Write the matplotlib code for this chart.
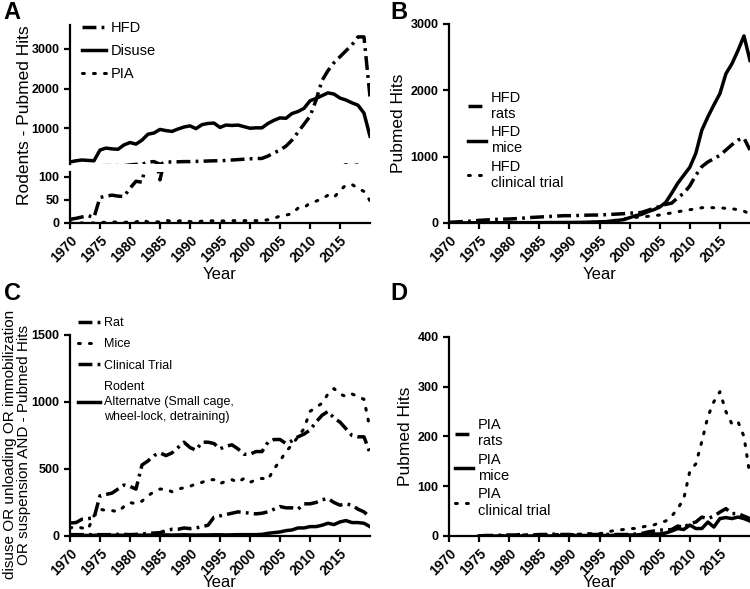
import numpy as np
import matplotlib
matplotlib.use("Agg")
import matplotlib.pyplot as plt

plt.rcParams['font.family'] = ['Liberation Sans', 'DejaVu Sans']

years = list(range(1970, 2021))
years_d = list(range(1975, 2021))

# Panel A - rodents
a_hfd = [8, 10, 13, 16, 12, 55, 58, 60, 58, 57, 75, 90, 88, 150, 160, 93, 150, 150, 155, 160,
         160, 165, 170, 175, 180, 180, 190, 200, 210, 220, 230, 235, 240, 300, 380, 450, 550, 700, 900, 1100,
         1300, 1700, 2200, 2450, 2650, 2800, 2950, 3100, 3300, 3300, 1800]
a_disuse = [150, 180, 200, 190, 180, 450, 500, 480, 470, 580, 640, 600, 700, 850, 880, 970, 940, 920, 980, 1030,
            1060, 990, 1090, 1120, 1130, 1020, 1080, 1070, 1080, 1040, 1000, 1010, 1010, 1120, 1200, 1260, 1250, 1370, 1420, 1500,
            1690, 1750, 1820, 1890, 1860, 1760, 1710, 1640, 1580, 1380, 800]
a_pia = [0, 0, 0, 0, 0, 2, 1, 2, 2, 1, 3, 2, 7, 2, 3, 2, 6, 3, 4, 6,
         3, 2, 4, 4, 5, 5, 4, 5, 5, 5, 5, 5, 5, 7, 10, 15, 17, 20, 32, 33,
         43, 47, 52, 60, 55, 70, 82, 83, 75, 68, 48]

# Panel B - HFD
b_rats = [10, 15, 20, 25, 30, 40, 45, 50, 55, 58, 60, 65, 70, 80, 85, 90, 95, 100, 105, 110,
          110, 112, 115, 118, 120, 120, 125, 130, 135, 140, 150, 150, 160, 190, 220, 250, 280, 300, 380, 450,
          560, 720, 850, 920, 970, 1020, 1100, 1180, 1250, 1280, 1100]
b_mice = [2, 2, 2, 2, 3, 3, 3, 3, 4, 4, 5, 5, 5, 5, 6, 6, 6, 7, 7, 8,
          8, 9, 10, 12, 15, 18, 20, 30, 40, 50, 80, 110, 130, 170, 200, 240, 310, 450, 600, 720,
          840, 1050, 1400, 1600, 1780, 1950, 2250, 2400, 2600, 2820, 2450]
b_clin = [0, 0, 0, 0, 0, 0, 0, 0, 0, 0, 0, 0, 1, 1, 1, 2, 2, 2, 3, 3,
          4, 5, 6, 8, 10, 15, 20, 30, 45, 60, 80, 85, 90, 100, 110, 120, 140, 150, 170, 185,
          200, 215, 230, 235, 230, 230, 220, 215, 200, 180, 130]

# Panel C - disuse
c_rat = [97, 100, 125, 130, 135, 300, 310, 320, 350, 380, 370, 350, 530, 560, 600, 620, 600, 620, 660, 700,
         660, 640, 700, 700, 690, 650, 670, 680, 650, 610, 610, 630, 630, 700, 720, 720, 690, 710, 740, 760,
         790, 850, 900, 930, 880, 850, 800, 750, 740, 740, 620]
c_mice = [60, 70, 60, 50, 150, 200, 190, 190, 180, 220, 250, 240, 260, 300, 330, 350, 350, 330, 350, 360,
          370, 390, 400, 420, 420, 390, 410, 420, 400, 430, 400, 420, 430, 420, 500, 560, 630, 680, 740, 800,
          930, 960, 990, 1060, 1100, 1060, 1040, 1060, 1040, 1020, 800]
c_clin = [10, 10, 10, 10, 10, 10, 10, 10, 12, 12, 10, 12, 15, 20, 22, 25, 40, 50, 50, 60,
          55, 60, 70, 80, 140, 150, 160, 170, 180, 175, 170, 165, 170, 180, 200, 220, 210, 210, 200, 240,
          240, 250, 270, 280, 250, 230, 240, 230, 200, 180, 140]
c_alt = [5, 5, 4, 4, 5, 6, 5, 5, 6, 5, 5, 6, 6, 7, 7, 8, 8, 7, 8, 9,
         8, 7, 8, 8, 9, 9, 8, 9, 10, 10, 10, 10, 12, 20, 25, 30, 40, 45, 60, 60,
         70, 70, 80, 95, 85, 105, 115, 100, 100, 95, 70]

# Panel D - PIA (from 1975)
d_rats = [0, 1, 1, 1, 2, 2, 2, 3, 2, 2, 3, 3, 4, 3, 3, 3, 2, 3, 4, 3,
          3, 3, 3, 3, 3, 3, 4, 5, 8, 10, 12, 12, 13, 20, 17, 25, 28, 38, 35, 40,
          48, 55, 45, 45, 40, 35]
d_mice = [0, 0, 0, 0, 0, 0, 0, 0, 0, 0, 0, 0, 0, 0, 1, 1, 1, 1, 1, 1,
          1, 1, 1, 2, 2, 2, 2, 3, 3, 4, 4, 6, 10, 15, 13, 22, 15, 15, 28, 18,
          35, 37, 35, 38, 35, 30]
d_clin = [0, 0, 1, 1, 1, 1, 1, 2, 2, 2, 2, 2, 3, 3, 3, 3, 3, 4, 4, 5,
          5, 6, 10, 12, 13, 15, 15, 18, 20, 22, 27, 30, 40, 55, 75, 130, 145, 190, 240, 270,
          290, 250, 225, 230, 200, 120]

xticks = list(range(1970, 2016, 5))

DASH = (0, (4, 1.5, 0.8, 1.5))
DOT = (0, (0.6, 3))


def style_ax(ax, show_x=True):
    for s in ['top', 'right']:
        ax.spines[s].set_visible(False)
    for s in ['left', 'bottom']:
        ax.spines[s].set_linewidth(1.6)
    ax.tick_params(width=1.6, length=4, labelsize=9)
    for lab in ax.get_yticklabels():
        lab.set_fontweight('bold')
    if show_x:
        ax.set_xticks(xticks)
        ax.set_xticklabels([str(x) for x in xticks], rotation=45, ha='right',
                           rotation_mode='anchor', fontweight='bold', fontsize=10)
    ax.set_xlim(1970, 2020)


def legend_at(ax, x, y, fs, hl, ls, line_sp=1.2):
    leg = ax.legend(loc='upper left', bbox_to_anchor=(x, y), bbox_transform=fig.transFigure,
                    frameon=False, fontsize=fs, handlelength=hl, handletextpad=0.35,
                    labelspacing=ls, borderpad=0, borderaxespad=0)
    for t in leg.get_texts():
        t.set_linespacing(line_sp)
    return leg


fig = plt.figure(figsize=(7.5, 5.89), dpi=100)

# ---- Panel A (broken axis)
axA_top = fig.add_axes([0.0933, 0.7216, 0.4, 0.2360])
axA_bot = fig.add_axes([0.0933, 0.6214, 0.4, 0.0866])
for ax in [axA_top, axA_bot]:
    ax.plot(years, a_hfd, color='black', lw=2.5, linestyle=DASH, label='HFD')
    ax.plot(years, a_disuse, color='black', lw=2.5, label='Disuse')
    ax.plot(years, a_pia, color='black', lw=2.2, linestyle=DOT, dash_capstyle='round', label='PIA')
axA_top.set_ylim(100, 3600)
axA_top.set_yticks([1000, 2000, 3000])
axA_bot.set_ylim(0, 110)
axA_bot.set_yticks([0, 50, 100])
style_ax(axA_top, show_x=False)
axA_top.spines['bottom'].set_visible(False)
axA_top.set_xticks([])
style_ax(axA_bot)
axA_bot.set_xlabel('Year', fontsize=12, labelpad=1)
fig.text(0.033, 0.805, 'Rodents - Pubmed Hits', rotation=90, fontsize=12.5, ha='center', va='center')
legend_at(axA_top, 0.109, 0.965, 10.5, 1.65, 0.62)

# ---- Panel B
axB = fig.add_axes([0.5987, 0.6214, 0.4013, 0.3379])
axB.plot(years, b_rats, color='black', lw=2.5, linestyle=DASH, label='HFD\nrats')
axB.plot(years, b_mice, color='black', lw=2.5, label='HFD\nmice')
axB.plot(years, b_clin, color='black', lw=2.2, linestyle=DOT, dash_capstyle='round', label='HFD\nclinical trial')
axB.set_ylim(0, 3000)
axB.set_yticks([0, 1000, 2000, 3000])
style_ax(axB)
axB.set_ylabel('Pubmed Hits', fontsize=12.5, labelpad=3)
axB.set_xlabel('Year', fontsize=12, labelpad=1)
legend_at(axB, 0.624, 0.846, 10.5, 1.2, 0.3)

# ---- Panel C
axC = fig.add_axes([0.0933, 0.09, 0.4, 0.3413])
axC.plot(years, c_rat, color='black', lw=2.5, linestyle=DASH, label='Rat')
axC.plot(years, c_mice, color='black', lw=2.2, linestyle=DOT, dash_capstyle='round', label='Mice')
axC.plot(years, c_clin, color='black', lw=2.5, linestyle=DASH, label='Clinical Trial')
axC.plot(years, c_alt, color='black', lw=2.5,
         label='Rodent\nAlternatve (Small cage,\nwheel-lock, detraining)')
axC.set_ylim(0, 1500)
axC.set_yticks([0, 500, 1000, 1500])
style_ax(axC)
fig.text(0.0225, 0.245, 'disuse OR unloading OR immobilization\nOR suspension AND - Pubmed Hits',
         rotation=90, fontsize=11, ha='center', va='center', multialignment='center', linespacing=1.05)
axC.set_xlabel('Year', fontsize=12, labelpad=-2)
legend_at(axC, 0.104, 0.462, 9, 1.75, 0.75, line_sp=1.35)

# ---- Panel D
axD = fig.add_axes([0.5987, 0.09, 0.4013, 0.3379])
axD.plot(years_d, d_rats, color='black', lw=2.5, linestyle=DASH, label='PIA\nrats')
axD.plot(years_d, d_mice, color='black', lw=2.5, label='PIA\nmice')
axD.plot(years_d, d_clin, color='black', lw=2.2, linestyle=DOT, dash_capstyle='round', label='PIA\nclinical trial')
axD.set_ylim(0, 400)
axD.set_yticks([0, 100, 200, 300, 400])
style_ax(axD)
axD.set_ylabel('Pubmed Hits', fontsize=12.5, labelpad=3)
axD.set_xlabel('Year', fontsize=12, labelpad=-2)
legend_at(axD, 0.607, 0.29, 10.5, 1.2, 0.3)

for lbl, x, y in [('A', 0.005, 0.998), ('B', 0.52, 0.998), ('C', 0.005, 0.522), ('D', 0.52, 0.522)]:
    fig.text(x, y, lbl, fontsize=17, fontweight='bold', ha='left', va='top')

fig.savefig('out.png', dpi=100)
